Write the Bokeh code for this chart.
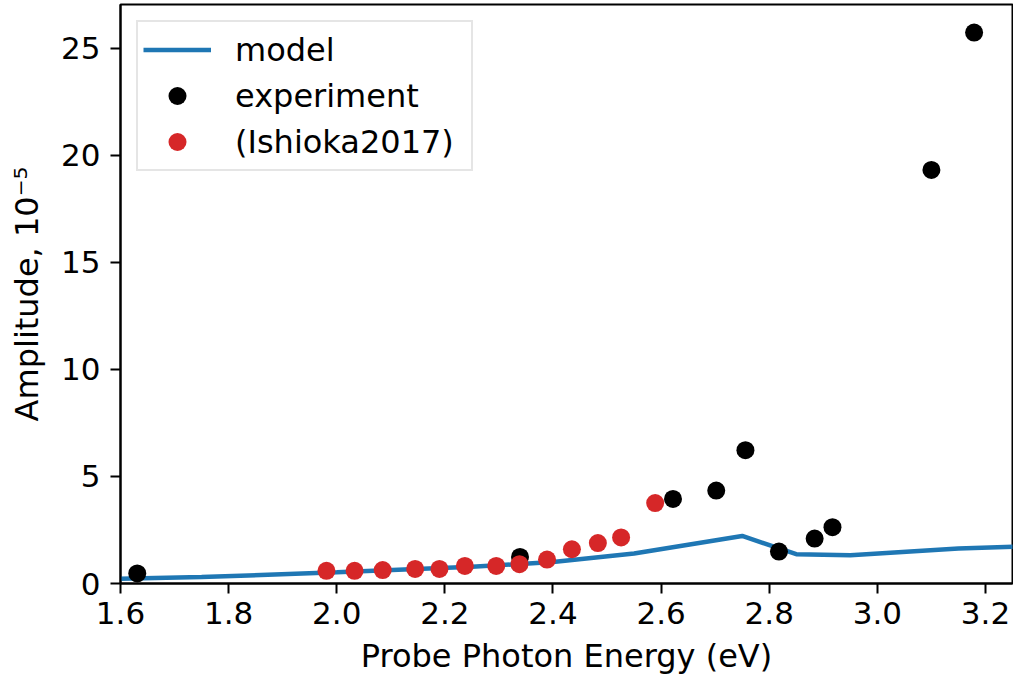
from bokeh.plotting import figure
from bokeh.models import Range1d, FixedTicker, Legend, LegendItem
from bokeh.embed import file_html
from bokeh.resources import INLINE

# ---- data ----
model_x = [1.55, 1.75, 2.0, 2.25, 2.4, 2.55, 2.75, 2.85, 2.95, 3.15, 3.3]
model_y = [0.20, 0.30, 0.52, 0.78, 1.00, 1.40, 2.22, 1.37, 1.32, 1.63, 1.76]

exp_x = [1.631, 2.339, 2.622, 2.702, 2.756, 2.818, 2.884, 2.917, 3.100, 3.179]
exp_y = [0.47, 1.24, 3.95, 4.34, 6.23, 1.49, 2.10, 2.63, 19.32, 25.74]

ish_x = [1.981, 2.033, 2.085, 2.145, 2.190, 2.237, 2.295, 2.338, 2.389,
         2.435, 2.483, 2.526, 2.589]
ish_y = [0.59, 0.59, 0.63, 0.68, 0.68, 0.82, 0.82, 0.90, 1.12,
         1.60, 1.89, 2.15, 3.76]

x_ticks = [1.6, 1.8, 2.0, 2.2, 2.4, 2.6, 2.8, 3.0, 3.2]
x_tick_labels = ["1.6", "1.8", "2.0", "2.2", "2.4", "2.6", "2.8", "3.0", "3.2"]
y_ticks = [0, 5, 10, 15, 20, 25]
y_tick_labels = ["0", "5", "10", "15", "20", "25"]

FONT = "DejaVu Sans"
FS = "31px"
LFS = "32px"

p = figure(frame_width=892, frame_height=579,
           min_border_left=120, min_border_right=1,
           min_border_top=4, min_border_bottom=96,
           x_range=Range1d(1.6, 3.25), y_range=Range1d(0, 27.05),
           output_backend="svg", toolbar_location=None)
p.background_fill_color = "white"
p.border_fill_color = "white"
p.grid.visible = False
p.outline_line_color = "black"
p.outline_line_width = 2
p.outline_line_alpha = 1.0

r_model = p.line(model_x, model_y, line_color="#1f77b4", line_width=4.5)
r_exp = p.scatter(exp_x, exp_y, size=18, fill_color="black", line_color="black", line_width=0)
r_ish = p.scatter(ish_x, ish_y, size=18, fill_color="#d62728", line_color="#d62728", line_width=0)

for ax in (p.xaxis[0], p.yaxis[0]):
    ax.axis_line_width = 2
    ax.axis_line_color = "black"
    ax.major_tick_line_width = 2
    ax.major_tick_out = 10
    ax.major_tick_in = 0
    ax.minor_tick_line_color = None
    ax.major_label_text_font = FONT
    ax.major_label_text_font_size = FS
    ax.major_label_text_color = "black"
    ax.axis_label_text_font = FONT
    ax.axis_label_text_font_size = LFS
    ax.axis_label_text_font_style = "normal"
    ax.axis_label_text_color = "black"

p.xaxis[0].ticker = FixedTicker(ticks=x_ticks)
p.xaxis[0].major_label_overrides = {t: l for t, l in zip(x_ticks, x_tick_labels)}
p.yaxis[0].ticker = FixedTicker(ticks=y_ticks)
p.yaxis[0].major_label_overrides = {t: l for t, l in zip(y_ticks, y_tick_labels)}
p.xaxis[0].axis_label = "Probe Photon Energy (eV)"
p.yaxis[0].axis_label = "Amplitude, 10\u207b\u2075"
p.xaxis[0].major_label_standoff = 8
p.yaxis[0].major_label_standoff = 10
p.xaxis[0].axis_label_standoff = 10
p.yaxis[0].axis_label_standoff = 12

legend = Legend(items=[
    LegendItem(label="model", renderers=[r_model]),
    LegendItem(label="experiment", renderers=[r_exp]),
    LegendItem(label="(Ishioka2017)", renderers=[r_ish]),
], location="top_left")
legend.margin = 16
legend.padding = 5
legend.spacing = 1
legend.glyph_width = 68
legend.glyph_height = 45
legend.label_height = 30
legend.label_width = 231
legend.label_standoff = 24
legend.label_text_font = FONT
legend.label_text_font_size = LFS
legend.label_text_color = "black"
legend.border_line_color = "#cccccc"
legend.border_line_width = 2
legend.background_fill_alpha = 0.8
p.add_layout(legend, "center")

open("out.html", "w").write(file_html(p, INLINE))
